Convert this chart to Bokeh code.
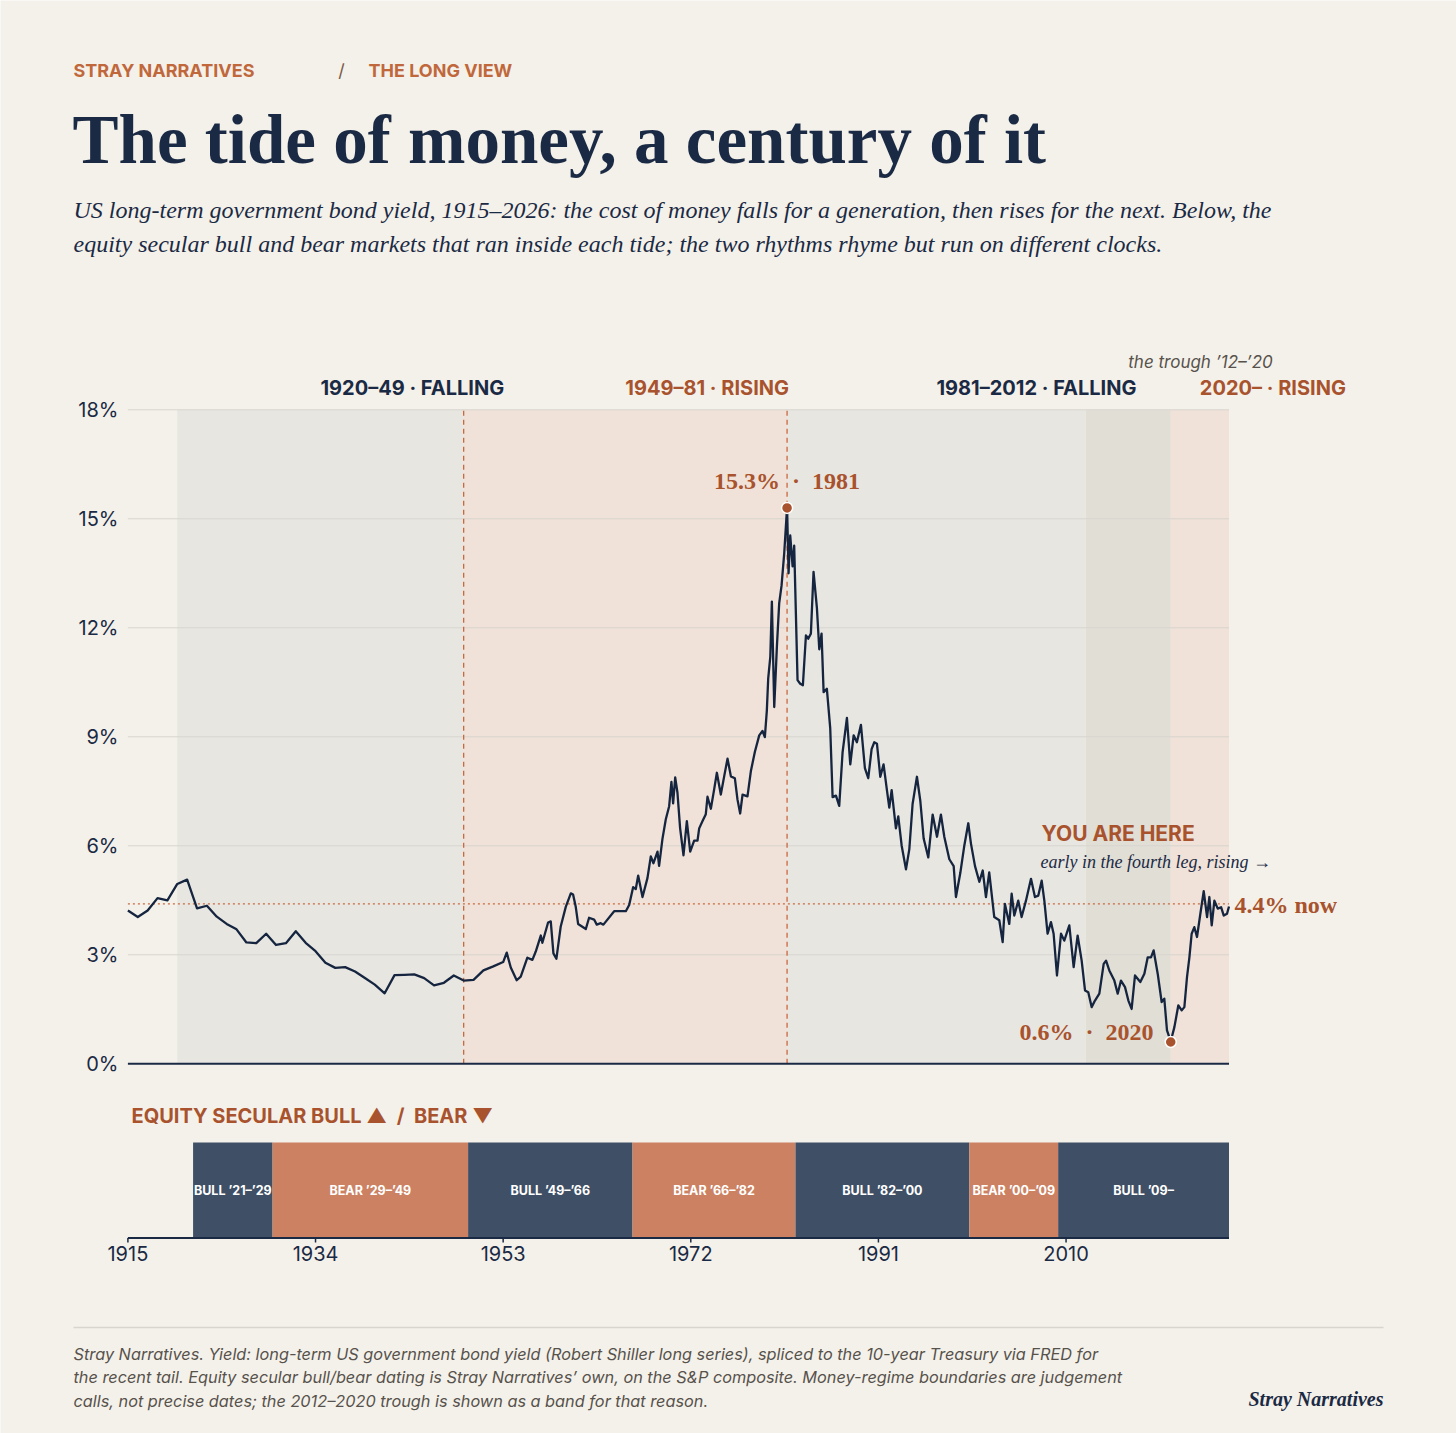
from bokeh.plotting import figure
from bokeh.models import Range1d, Label, ColumnDataSource
from bokeh.core.properties import value
from bokeh.embed import file_html
from bokeh.resources import INLINE

# ---------------- data ----------------
annual_years = list(range(1915, 1953))
annual_yield = [4.22, 4.04, 4.22, 4.56, 4.50, 4.95, 5.07, 4.28, 4.35, 4.05,
                3.85, 3.70, 3.34, 3.32, 3.58, 3.27, 3.32, 3.65, 3.33, 3.10,
                2.78, 2.64, 2.66, 2.54, 2.36, 2.18, 1.94, 2.44, 2.45, 2.46,
                2.36, 2.16, 2.23, 2.43, 2.29, 2.31, 2.57, 2.68]

monthly_years = [1953.0, 1953.36, 1953.77, 1954.37, 1954.78, 1955.45, 1955.96, 1956.30, 1956.81, 1956.97,
                 1957.55, 1957.82, 1958.09, 1958.39, 1958.83, 1959.34, 1959.85, 1960.08, 1960.35, 1960.59,
                 1961.37, 1961.70, 1962.21, 1962.48, 1962.88, 1963.15, 1964.24, 1965.42, 1965.76, 1966.16,
                 1966.43, 1966.67, 1967.11, 1967.61, 1967.95, 1968.22, 1968.63, 1968.79, 1969.13, 1969.47,
                 1969.81, 1970.04, 1970.21, 1970.42, 1970.65, 1970.92, 1971.26, 1971.60, 1971.94, 1972.34,
                 1972.68, 1972.85, 1973.19, 1973.52, 1973.69, 1974.03, 1974.37, 1974.64, 1975.04, 1975.38,
                 1975.72, 1976.06, 1976.46, 1976.73, 1977.00, 1977.24, 1977.74, 1978.08, 1978.49, 1978.93,
                 1979.26, 1979.50, 1979.70, 1979.84, 1980.05, 1980.21, 1980.45, 1980.72, 1980.95, 1981.19,
                 1981.46, 1981.75, 1981.90, 1982.07, 1982.31, 1982.47, 1982.81, 1983.08, 1983.35, 1983.66,
                 1983.89, 1984.16, 1984.43, 1984.77, 1985.01, 1985.24, 1985.45, 1985.78, 1986.12, 1986.36,
                 1986.70, 1987.03, 1987.37, 1987.81, 1988.15, 1988.49, 1988.82, 1989.23, 1989.63, 1989.97,
                 1990.31, 1990.58, 1990.85, 1991.19, 1991.52, 1991.86, 1992.10, 1992.34, 1992.77, 1993.01,
                 1993.35, 1993.79, 1994.13, 1994.46, 1994.90, 1995.24, 1995.58, 1996.05, 1996.49, 1996.93,
                 1997.33, 1997.67, 1998.18, 1998.62, 1998.85, 1999.29, 1999.70, 2000.10, 2000.37, 2000.78,
                 2001.22, 2001.56, 2001.89, 2002.22, 2002.73, 2003.24, 2003.58, 2003.81, 2004.25, 2004.49,
                 2004.76, 2005.16, 2005.50, 2005.94, 2006.45, 2006.85, 2007.19, 2007.53, 2007.80, 2008.13,
                 2008.47, 2008.74, 2009.08, 2009.49, 2009.82, 2010.33, 2010.77, 2011.17, 2011.58, 2011.92,
                 2012.25, 2012.59, 2012.93, 2013.37, 2013.81, 2014.05, 2014.38, 2014.89, 2015.23, 2015.56,
                 2015.97, 2016.31, 2016.64, 2016.98, 2017.52, 2017.93, 2018.27, 2018.60, 2018.87, 2019.28,
                 2019.68, 2019.95, 2020.22, 2020.60, 2020.97, 2021.37, 2021.71, 2021.98, 2022.25, 2022.49,
                 2022.72, 2022.99, 2023.26, 2023.60, 2023.94, 2024.28, 2024.51, 2024.75, 2025.02, 2025.36,
                 2025.70, 2025.97, 2026.30, 2026.50]
monthly_yield = [2.80, 3.06, 2.65, 2.30, 2.40, 2.92, 2.86, 3.09, 3.53, 3.33,
                 3.89, 3.92, 3.04, 2.89, 3.78, 4.32, 4.69, 4.66, 4.32, 3.85,
                 3.71, 4.02, 3.97, 3.83, 3.87, 3.83, 4.20, 4.20, 4.37, 4.86,
                 4.81, 5.18, 4.59, 5.11, 5.71, 5.52, 5.84, 5.45, 6.19, 6.73,
                 7.09, 7.76, 7.17, 7.88, 7.46, 6.48, 5.74, 6.68, 5.84, 6.14,
                 6.14, 6.48, 6.68, 6.87, 7.35, 7.02, 7.56, 8.01, 7.41, 7.91,
                 8.40, 7.91, 7.86, 7.27, 6.89, 7.41, 7.36, 8.05, 8.59, 9.04,
                 9.16, 8.99, 9.72, 10.61, 11.20, 12.72, 9.82, 11.49, 12.67, 13.16,
                 14.05, 15.32, 13.50, 14.54, 13.69, 14.26, 10.56, 10.46, 10.42, 11.79,
                 11.70, 11.84, 13.54, 12.55, 11.41, 11.84, 10.23, 10.32, 9.23, 7.34,
                 7.38, 7.10, 8.57, 9.52, 8.24, 9.04, 8.85, 9.33, 8.14, 7.86,
                 8.66, 8.85, 8.81, 7.90, 8.24, 7.53, 7.05, 7.53, 6.48, 6.81,
                 6.01, 5.35, 5.91, 7.15, 7.90, 7.24, 6.20, 5.68, 6.86, 6.25,
                 6.86, 6.25, 5.63, 5.44, 4.59, 5.25, 6.01, 6.62, 6.06, 5.44,
                 5.01, 5.32, 4.59, 5.27, 4.04, 3.95, 3.35, 4.40, 3.85, 4.68,
                 4.08, 4.49, 4.04, 4.49, 5.09, 4.59, 4.63, 5.04, 4.49, 3.58,
                 3.90, 3.58, 2.43, 3.58, 3.39, 3.81, 2.66, 3.53, 2.84, 2.02,
                 1.97, 1.56, 1.74, 1.93, 2.75, 2.84, 2.57, 2.29, 1.93, 2.29,
                 2.11, 1.74, 1.51, 2.43, 2.25, 2.48, 2.93, 2.93, 3.12, 2.48,
                 1.70, 1.79, 0.92, 0.62, 1.01, 1.61, 1.47, 1.56, 2.39, 2.93,
                 3.58, 3.76, 3.49, 4.13, 4.75, 4.04, 4.59, 3.81, 4.49, 4.27,
                 4.31, 4.08, 4.13, 4.33]

band_start = [1920, 1949, 1981.75, 2012, 2020.6]
band_end = [1949, 1981.75, 2012, 2020.6, 2026.5]
band_kind = ["falling", "rising", "falling", "trough", "rising"]
band_labels = ["1920–49 · FALLING", "1949–81 · RISING", "1981–2012 · FALLING",
               "the trough ’12–’20", "2020– · RISING"]
regime_turns = [1949, 1981.75]

peak_year, peak_yield = 1981.75, 15.3
trough_year, trough_yield = 2020.6, 0.6
now_yield = 4.4

eq_start = [1921.6, 1929.65, 1949.45, 1966.1, 1982.6, 2000.2, 2009.2]
eq_end = [1929.65, 1949.45, 1966.1, 1982.6, 2000.2, 2009.2, 2026.5]
eq_kind = ["bull", "bear", "bull", "bear", "bull", "bear", "bull"]
eq_labels = ["BULL ’21–’29", "BEAR ’29–’49", "BULL ’49–’66", "BEAR ’66–’82",
             "BULL ’82–’00", "BEAR ’00–’09", "BULL ’09–"]

x_ticks = [1915, 1934, 1953, 1972, 1991, 2010]
y_ticks = [0, 3, 6, 9, 12, 15, 18]
X_FIRST, X_LAST = 1915, 2026.5

# ---------------- style ----------------
BG = "#f4f1ea"
NAVY = "#1b2a44"
LINE = "#15253f"
ORANGE = "#a8532d"
KICK = "#c0683b"
DASH = "#c8693f"
GRID = "#d8d5cf"
BAND_COL = {"falling": "#e8e6e1", "rising": "#f0e2d8", "trough": "#e1ded6"}
EQ_COL = {"bull": "#3f5066", "bear": "#cc8262"}
SANS = "Inter"
SERIF = "Liberation Serif"

# ---------------- geometry (page pixels) ----------------
W, H = 1456, 1433
PX_FIRST, PX_LAST = 127.4, 1228.5      # where 1915 and 2026.5 sit
PY_TOP, PY_ZERO = 409.3, 1063.3        # where 18% and 0% sit
PPX = (PX_LAST - PX_FIRST) / (X_LAST - X_FIRST)
PPY = (PY_ZERO - PY_TOP) / 18.0
x0 = X_FIRST - PX_FIRST / PPX
y1 = 18 + PY_TOP / PPY


def X(px):
    return x0 + px / PPX


def Y(py):
    return y1 - py / PPY


p = figure(width=W, height=H, output_backend="svg", toolbar_location=None, title=None,
           x_range=Range1d(x0, x0 + W / PPX), y_range=Range1d(y1 - H / PPY, y1),
           x_axis_location=None, y_axis_location=None, min_border=0)
p.background_fill_color = BG
p.border_fill_color = BG
p.outline_line_color = None
p.xgrid.visible = False
p.ygrid.visible = False

# regime bands
p.quad(left=band_start, right=band_end, bottom=0, top=18,
       fill_color=[BAND_COL[k] for k in band_kind], line_color=None)

# gridlines
grid_y = [t for t in y_ticks if t > 0]
p.segment(x0=[X_FIRST] * len(grid_y), y0=grid_y, x1=[X_LAST] * len(grid_y), y1=grid_y,
          line_color=GRID, line_width=1)

# regime turns
p.segment(x0=regime_turns, y0=0, x1=regime_turns, y1=18, line_color=DASH,
          line_width=1.3, line_dash="5 4")

# now line
p.segment(x0=[X_FIRST], y0=[now_yield], x1=[X_LAST], y1=[now_yield], line_color=DASH,
          line_width=1.3, line_dash="2 3")

# baseline
p.segment(x0=[X_FIRST], y0=[0], x1=[X_LAST], y1=[0], line_color=NAVY, line_width=2)

# yield line
years = annual_years + monthly_years
yields = annual_yield + monthly_yield
p.line(years, yields, line_color=LINE, line_width=2.3, line_join="round")

# peak / trough dots
p.scatter([peak_year, trough_year], [peak_yield, trough_yield], size=11,
          fill_color=ORANGE, line_color="white", line_width=1.5)

# y tick labels
p.text(x=[X(118)] * len(y_ticks), y=y_ticks, text=[f"{t}%" for t in y_ticks],
       text_font=value(SANS), text_font_size="20px", text_color=NAVY,
       text_align="right", text_baseline="middle")

# equity bars
bar_top, bar_bot = Y(1142), Y(1237.5)
p.quad(left=eq_start, right=eq_end, bottom=bar_bot, top=bar_top,
       fill_color=[EQ_COL[k] for k in eq_kind], line_color=None)
eq_src = ColumnDataSource(dict(x=[(a + b) / 2 for a, b in zip(eq_start, eq_end)],
                               y=[(bar_top + bar_bot) / 2] * len(eq_labels), t=eq_labels))
p.text(x="x", y="y", text="t", source=eq_src, text_color="white",
       text_font=value(SANS), text_font_style="bold", text_font_size="12.5px",
       text_align="center", text_baseline="middle")

# x axis
p.segment(x0=[X_FIRST], y0=[bar_bot], x1=[X_LAST], y1=[bar_bot], line_color=NAVY, line_width=2)
p.segment(x0=x_ticks, y0=[bar_bot] * len(x_ticks), x1=x_ticks, y1=[Y(1242)] * len(x_ticks),
          line_color=NAVY, line_width=1.5)
p.text(x=x_ticks, y=[Y(1253)] * len(x_ticks), text=[str(t) for t in x_ticks],
       text_font=value(SANS), text_font_size="20px", text_color=NAVY,
       text_align="center", text_baseline="middle")


def lab(text, x, y, size, color, font=SANS, style="normal", align="left", baseline="middle"):
    p.add_layout(Label(x=x, y=y, text=text, text_font=font, text_font_style=style,
                       text_font_size=size, text_color=color, text_align=align,
                       text_baseline=baseline))


# regime labels (start at band midpoint)
for s, e, k, t in zip(band_start, band_end, band_kind, band_labels):
    mid = (s + e) / 2
    if k == "trough":
        lab(t, mid, Y(361), "17px", "#57524c", style="italic")
    else:
        lab(t, mid, Y(387), "20px", ORANGE if k == "rising" else NAVY, style="bold")

# annotations
SEP = " \u00a0·\u00a0 "
lab(f"{peak_yield}%{SEP}{int(peak_year)}", peak_year, Y(480), "24px", ORANGE, SERIF, "bold", "center")
lab(f"{trough_yield}%{SEP}{int(trough_year)}", X(1153), Y(1031), "24px", ORANGE, SERIF, "bold", "right")
lab(f"{now_yield}% now", X(1234), Y(904), "24px", ORANGE, SERIF, "bold")
lab("YOU ARE HERE", X(1041), Y(833), "21px", ORANGE, style="bold")
lab("early in the fourth leg, rising →", X(1040), Y(861), "18px", NAVY, SERIF, "italic")
lab("EQUITY SECULAR BULL ▲ \u00a0/\u00a0 BEAR ▼", X(131), Y(1115), "20px", ORANGE, style="bold")

# header
lab("STRAY NARRATIVES", X(73), Y(70), "18px", KICK, style="bold")
lab("/", X(341), Y(70), "18px", "#7a5a48", align="center")
lab("THE LONG VIEW", X(368), Y(70), "18px", KICK, style="bold")
lab("The tide of money, a century of it", X(72), Y(139), "69px", NAVY, SERIF, "bold")
lab("US long-term government bond yield, 1915–2026: the cost of money falls for a generation, "
    "then rises for the next. Below, the", X(73), Y(209), "24px", NAVY, SERIF, "italic")
lab("equity secular bull and bear markets that ran inside each tide; the two rhythms rhyme "
    "but run on different clocks.", X(73), Y(243), "24px", NAVY, SERIF, "italic")

# footer
p.segment(x0=[X(73)], y0=[Y(1327)], x1=[X(1383)], y1=[Y(1327)], line_color=GRID, line_width=1.5)
foot = ["Stray Narratives. Yield: long-term US government bond yield (Robert Shiller long series), "
        "spliced to the 10-year Treasury via FRED for",
        "the recent tail. Equity secular bull/bear dating is Stray Narratives’ own, on the S&P "
        "composite. Money-regime boundaries are judgement",
        "calls, not precise dates; the 2012–2020 trough is shown as a band for that reason."]
for i, line in enumerate(foot):
    lab(line, X(73), Y(1353 + 23.5 * i), "16.3px", "#57524c", style="italic")
lab("Stray Narratives", X(1383), Y(1398), "20px", NAVY, SERIF, "bold italic", "right")

open("out.html", "w").write(file_html(p, INLINE))
